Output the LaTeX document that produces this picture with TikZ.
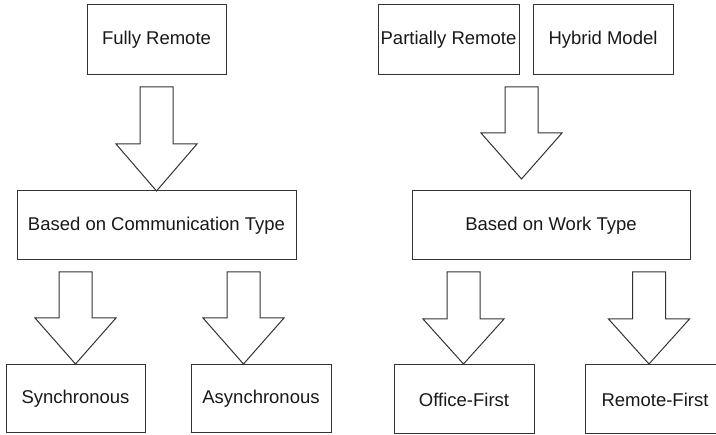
\documentclass[tikz,border=0pt]{standalone}
\usepackage{fontspec}
\setmainfont{Liberation Sans}
\begin{document}
\begin{tikzpicture}[x=1pt,y=-1pt,
  box/.style={draw=black!80, line width=1pt, fill=white, inner sep=0pt, font=\fontsize{18.5}{21}\selectfont, text=black!90},
  barrow/.style={draw=black!80, line width=1pt, fill=white, line join=miter}]
\useasboundingbox (0,0) rectangle (716,435);
\clip (0,0) rectangle (716,435);
\newcommand\blockarrow[4]{%
  \draw[barrow] (#1-16.5,#2) -- (#1+16.5,#2) -- (#1+16.5,#3) -- (#1+40.5,#3) -- (#1,#4) -- (#1-40.5,#3) -- (#1-16.5,#3) -- cycle;}
% boxes
\node[box, minimum width=139pt, minimum height=70pt] (fr) at (156.5,40) {Fully Remote};
\node[box, minimum width=279pt, minimum height=69pt] (bct) at (156.5,225.5) {Based on Communication Type};
\node[box, minimum width=139pt, minimum height=68pt] (sync) at (75.5,399) {Synchronous};
\node[box, minimum width=140pt, minimum height=68pt] (async) at (261,399) {Asynchronous};
\node[box, minimum width=141pt, minimum height=70pt] (pr) at (448.5,40) {Partially Remote};
\node[box, minimum width=140pt, minimum height=70pt] (hm) at (603,40) {Hybrid Model};
\node[box, minimum width=278pt, minimum height=69pt] (bwt) at (551,225.5) {Based on Work Type};
\node[box, minimum width=140pt, minimum height=69pt] (of) at (464,399.5) {Office-First};
\node[box, minimum width=140pt, minimum height=69pt] (rf) at (655,399.5) {Remote-First};
% block arrows
\blockarrow{156.5}{87}{144}{191}
\blockarrow{75.5}{272}{318}{364}
\blockarrow{243.5}{272}{318}{364}
\blockarrow{521.5}{87}{133}{179}
\blockarrow{463.5}{272}{319}{364}
\blockarrow{649}{272}{319}{364}
\end{tikzpicture}
\end{document}
